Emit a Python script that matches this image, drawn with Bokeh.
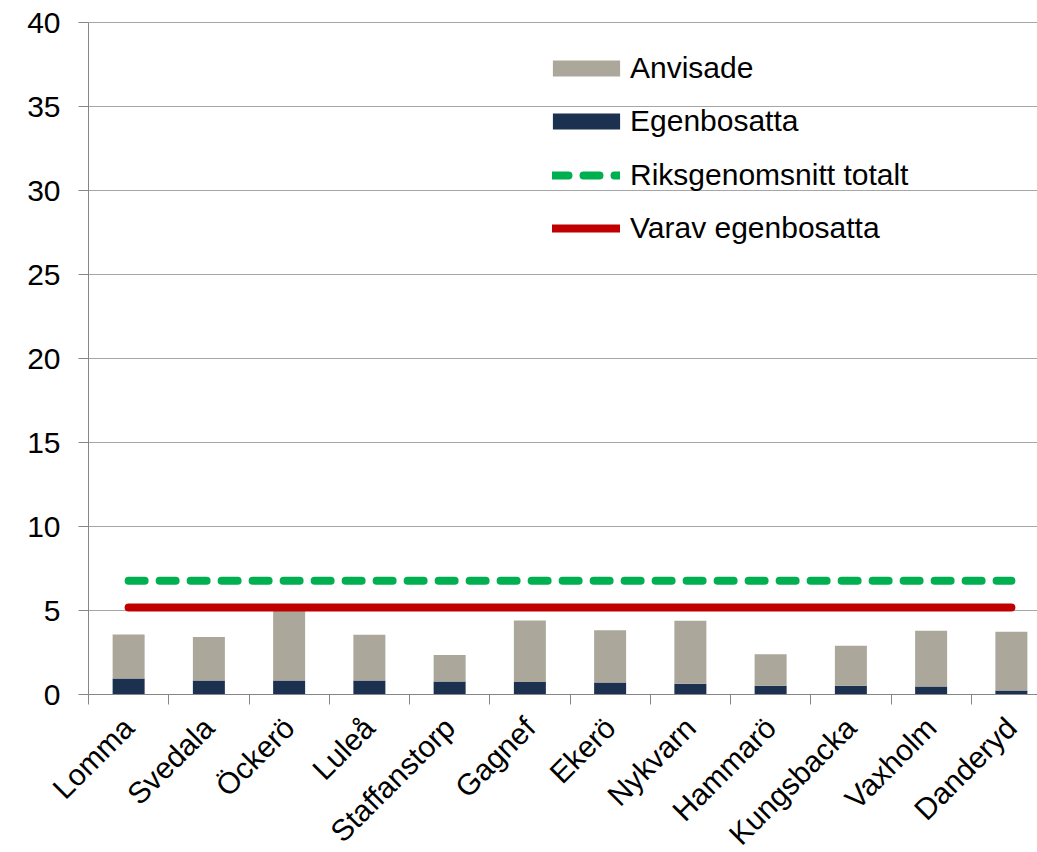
import math
from bokeh.plotting import figure
from bokeh.models import Range1d, FixedTicker, Legend, LegendItem, ColumnDataSource
from bokeh.embed import file_html
from bokeh.resources import INLINE

# ---- data ----
kommuner = ["Lomma", "Svedala", "Öckerö", "Luleå", "Staffanstorp", "Gagnef",
            "Ekerö", "Nykvarn", "Hammarö", "Kungsbacka", "Vaxholm", "Danderyd"]
totalt = [3.57, 3.42, 5.25, 3.55, 2.35, 4.40, 3.83, 4.39, 2.40, 2.90, 3.79, 3.73]
egenbosatta = [0.95, 0.83, 0.83, 0.83, 0.77, 0.74, 0.71, 0.64, 0.52, 0.52, 0.48, 0.24]
riks_totalt = 6.77
riks_egen = 5.18
y_ticks = [0, 5, 10, 15, 20, 25, 30, 35, 40]

anvisade = [t - e for t, e in zip(totalt, egenbosatta)]
n = len(kommuner)
centers = [i + 0.5 for i in range(n)]

FONT = "Liberation Sans"
FS = "30px"
W, H = 1037, 852
AXIS_X = 88             # pixel column of the value axis
AXIS_Y = 694            # pixel row of the value 0
TOP_Y = 22              # pixel row of the value 40
cat_px = 80.25
y_max = 40
px_per_unit = (AXIS_Y - TOP_Y) / y_max
x_start = -AXIS_X / cat_px
x_end = (W - AXIS_X) / cat_px
y_min = -(H - AXIS_Y) / px_per_unit
y_top = y_max + TOP_Y / px_per_unit

p = figure(width=W, height=H, output_backend="svg", toolbar_location=None,
           x_range=Range1d(x_start, x_end), y_range=Range1d(y_min, y_top),
           min_border=0, min_border_left=0, min_border_right=0,
           min_border_top=0, min_border_bottom=0)
p.outline_line_color = None
p.background_fill_color = "white"
p.border_fill_color = "white"

src = ColumnDataSource(dict(x=centers, egen=egenbosatta, anv=anvisade, tot=totalt))
bw = 32 / cat_px
r_egen = p.vbar(x="x", bottom=0, top="egen", width=bw, source=src,
                fill_color="#1C3050", line_color=None)
r_anv = p.vbar(x="x", bottom="egen", top="tot", width=bw, source=src,
               fill_color="#ABA79A", line_color=None)

r_riks = p.line([centers[0], centers[-1]], [riks_totalt, riks_totalt],
                line_color="#00B050", line_width=8, line_dash="16 15",
                line_cap="round")
r_var = p.line([centers[0], centers[-1]], [riks_egen, riks_egen],
               line_color="#C00000", line_width=8, line_cap="round")

# value axis
p.yaxis.fixed_location = 0
p.yaxis.bounds = (0, y_max)
p.yaxis.ticker = FixedTicker(ticks=y_ticks)
p.yaxis.major_label_text_font = FONT
p.yaxis.major_label_text_font_size = FS
p.yaxis.major_label_text_color = "black"
p.yaxis.axis_line_color = "#868686"
p.yaxis.major_tick_line_color = "#868686"
p.yaxis.major_tick_out = 10
p.yaxis.major_tick_in = 0
p.yaxis.minor_tick_line_color = None
p.yaxis.major_label_standoff = 18

# category axis
p.xaxis.fixed_location = 0
p.xaxis.bounds = (0, x_end)
p.xaxis.ticker = FixedTicker(ticks=centers, minor_ticks=list(range(n + 1)))
p.xaxis.major_label_overrides = {c: k for c, k in zip(centers, kommuner)}
p.xaxis.major_label_orientation = math.pi / 4
p.xaxis.major_label_text_font = FONT
p.xaxis.major_label_text_font_size = FS
p.xaxis.major_label_text_color = "black"
p.xaxis.axis_line_color = "#868686"
p.xaxis.major_tick_out = 0
p.xaxis.major_tick_in = 0
p.xaxis.minor_tick_line_color = "#868686"
p.xaxis.minor_tick_out = 10
p.xaxis.minor_tick_in = 0
p.xaxis.major_label_standoff = 18

p.xgrid.grid_line_color = None
p.ygrid.grid_line_color = "#A6A6A6"
p.ygrid.grid_line_width = 1
for g in p.ygrid:
    if "cross_bounds" in g.properties():
        g.cross_bounds = (0, x_end)

# legends
item_h = 34
spacing = 19


def make_legend(items, gw, gh, x_left, top_px, standoff):
    h = len(items) * item_h + (len(items) - 1) * spacing
    lg = Legend(items=items, location=(x_left, H - top_px - h))
    lg.background_fill_alpha = 0
    lg.border_line_color = None
    lg.padding = 0
    lg.margin = 0
    lg.spacing = spacing
    lg.glyph_width = gw
    lg.glyph_height = gh
    lg.label_height = item_h
    lg.label_standoff = standoff
    lg.label_text_font = FONT
    lg.label_text_font_size = FS
    lg.label_text_color = "black"
    lg.label_text_baseline = "middle"
    return lg


leg_bars = make_legend([LegendItem(label="Anvisade", renderers=[r_anv]),
                        LegendItem(label="Egenbosatta", renderers=[r_egen])],
                       84, 20, 544, 51, 2)
leg_lines = make_legend([LegendItem(label="Riksgenomsnitt totalt", renderers=[r_riks]),
                         LegendItem(label="Varav egenbosatta", renderers=[r_var])],
                        68, 16, 552, 158, 10)
p.add_layout(leg_bars)
p.add_layout(leg_lines)

open("out.html", "w").write(file_html(p, INLINE))
